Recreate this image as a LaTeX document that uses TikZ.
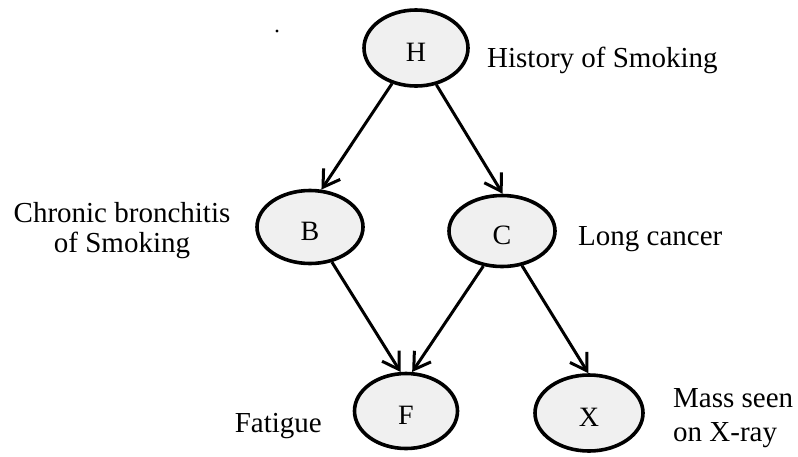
\documentclass[tikz,border=0pt]{standalone}
\usepackage{fontspec}
\setmainfont{Liberation Serif}
\usetikzlibrary{shapes.geometric,arrows.meta}
\definecolor{nodegrey}{RGB}{240,240,240}
\begin{document}
\begin{tikzpicture}[x=1pt,y=-1pt,
  var/.style={ellipse, draw=black, line width=3.6pt, fill=nodegrey,
    inner sep=0pt, text height=30pt, text depth=4pt,
    font=\fontsize{28}{32}\selectfont},
  link/.style={line width=3pt, -{Straight Barb[length=16pt,width=20pt]}},
  caption/.style={font=\fontsize{29}{33}\selectfont, inner sep=0pt}]
  \useasboundingbox (0,0) rectangle (798,456);

  % variables of the network
  \node[var, minimum width=104pt, minimum height=76pt] (H) at (416,48) {H};
  \node[var, minimum width=106pt, minimum height=73pt] (B) at (310,227) {B};
  \node[var, minimum width=106pt, minimum height=71pt] (C) at (502,231) {C};
  \node[var, minimum width=103pt, minimum height=75pt] (F) at (406,411) {F};
  \node[var, minimum width=108pt, minimum height=76pt] (X) at (589,413) {X};

  % descriptions
  \node[caption, anchor=base west] (hl) at (487,67) {History of Smoking};
  \node[caption, anchor=base] (bl1) at (122,222) {Chronic bronchitis};
  \node[caption, anchor=base] (bl2) at (122,252) {of Smoking};
  \node[caption, anchor=base west] (cl) at (578,245) {Long cancer};
  \node[caption, anchor=base east] (fl) at (322,432) {Fatigue};
  \node[caption, anchor=base west] (xl1) at (673,407) {Mass seen};
  \node[caption, anchor=base west] (xl2) at (673,441) {on X-ray};

  % stray mark
  \fill (277,31) circle (1.6pt);

  % dependencies
  \draw[link] (H.236) -- (B.73);
  \draw[link] (H.299) -- (C.89);
  \draw[link] (B.302) -- (F.98);
  \draw[link] (C.242) -- (F.81);
  \draw[link] (C.300) -- (X.91);
\end{tikzpicture}
\end{document}
